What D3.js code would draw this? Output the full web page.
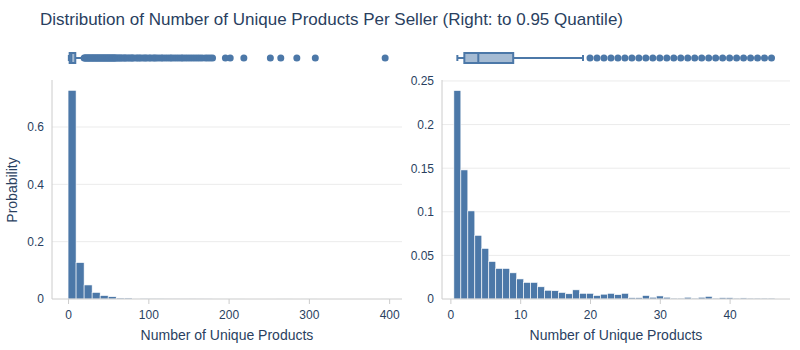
<!DOCTYPE html>
<html>
<head>
<meta charset="utf-8">
<script src="https://cdn.jsdelivr.net/npm/d3@7"></script>
<style>
  body { margin: 0; background: #fff; }
  text { font-family: "Liberation Sans", Arial, sans-serif; fill: #2a3f5f; }
  .axis path, .axis line { stroke: #cccccc; }
  .axis text { font-size: 12px; fill: #2a3f5f; }
</style>
</head>
<body>
<script>
// Chart size
const width = 800;
const height = 350;

// Left: full distribution, bins of 10 starting at 0
const leftBinSize = 10;
const leftProb = [0.728, 0.127, 0.049, 0.023, 0.012, 0.008, 0.0035, 0.0035,
  0.0015, 0.001, 0.0008, 0.0008, 0.0005, 0.0005, 0.0004, 0.0005, 0.0004, 0.0003,
  0.0001, 0.0001, 0.0001, 0.0001, 0, 0, 0, 0, 0.0001, 0.0001, 0, 0.0001, 0.0001,
  0, 0, 0, 0, 0, 0, 0, 0, 0.0001];
const leftBox = {low: 1, q1: 2, median: 4, q3: 9, high: 19};
const leftOutliers = [20, 21, 22, 23, 24, 25, 26, 27, 28, 29, 30, 31, 32, 33, 34, 35,
  36, 37, 38, 39, 40, 41, 42, 43, 44, 45, 46, 47, 48, 49, 50, 51, 52, 53, 54, 55, 56,
  57, 58, 59, 60, 62, 63, 65, 66, 68, 70, 71, 73, 75, 77, 79, 80, 82, 85, 87, 89, 91,
  94, 96, 98, 101, 103, 106, 108, 110, 113, 116, 118, 121, 124, 127, 129, 132, 135,
  138, 141, 143, 146, 149, 152, 155, 158, 161, 164, 167, 171, 174, 177, 180,
  196, 202, 219, 252, 265, 285, 308, 395];

// Right: up to 0.95 quantile, bins of width 1 centred on each count
const rightValues = [1, 2, 3, 4, 5, 6, 7, 8, 9, 10, 11, 12, 13, 14, 15, 16, 17, 18,
  19, 20, 21, 22, 23, 24, 25, 26, 27, 28, 29, 30, 31, 32, 33, 34, 35, 36, 37, 38, 39,
  40, 41, 42, 43, 44, 45, 46];
const rightProb = [0.239, 0.148, 0.101, 0.073, 0.058, 0.043, 0.035, 0.035, 0.030,
  0.023, 0.019, 0.019, 0.014, 0.010, 0.0095, 0.0075, 0.006, 0.0105, 0.0065, 0.0065,
  0.004, 0.0055, 0.0065, 0.005, 0.0065, 0.0015, 0.0015, 0.004, 0.002, 0.0035, 0.002,
  0.001, 0.001, 0.002, 0.001, 0.002, 0.003, 0.001, 0.0015, 0.0015, 0.001, 0.0012,
  0.001, 0.001, 0.001, 0.001];
const rightBox = {low: 1, q1: 2, median: 4, q3: 9, high: 19};
const rightOutliers = [20, 21, 22, 23, 24, 25, 26, 27, 28, 29, 30, 31, 32, 33, 34,
  35, 36, 37, 38, 39, 40, 41, 42, 43, 44, 45, 46];

// Tick labels
const leftXTicks = [0, 100, 200, 300, 400];
const leftYTicks = [0, 0.2, 0.4, 0.6];
const rightXTicks = [0, 10, 20, 30, 40];
const rightYTicks = [0, 0.05, 0.1, 0.15, 0.2, 0.25];

const barColor = "#4c78a8";
const gridColor = "#ebebeb";

const svg = d3.select("body")
  .append("svg")
  .attr("width", width)
  .attr("height", height);

//Title
svg.append("text")
  .attr("x", 40)
  .attr("y", 25)
  .style("font-size", "17px")
  .text("Distribution of Number of Unique Products Per Seller (Right: to 0.95 Quantile)");

//Draws one panel: box plot on top, histogram below
function drawPanel(opts) {
  const x = d3.scaleLinear().domain(opts.xDomain).range(opts.xRange);
  const y = d3.scaleLinear().domain(opts.yDomain).range([299, 80]);
  const g = svg.append("g");

  // grid
  g.append("g")
    .selectAll("line")
    .data(opts.yTicks.filter(d => d > 0))
    .enter()
    .append("line")
    .attr("x1", opts.xRange[0])
    .attr("x2", opts.xRange[1])
    .attr("y1", d => y(d))
    .attr("y2", d => y(d))
    .attr("stroke", gridColor);

  // bars
  g.append("g")
    .selectAll("rect")
    .data(opts.bins)
    .enter()
    .append("rect")
    .attr("x", d => x(d.x0))
    .attr("width", d => x(d.x1) - x(d.x0))
    .attr("y", d => y(d.p))
    .attr("height", d => y(0) - y(d.p))
    .attr("fill", barColor)
    .attr("stroke", "white")
    .attr("stroke-width", 0.6);

  // axes
  g.append("g")
    .attr("class", "axis")
    .attr("transform", "translate(0,299)")
    .call(d3.axisBottom(x).tickValues(opts.xTicks).tickSize(5).tickPadding(6))
    .call(a => a.select(".domain").attr("d", `M${opts.xRange[0]},0H${opts.xRange[1]}`));

  g.append("g")
    .attr("class", "axis")
    .attr("transform", `translate(${opts.xRange[0]},0)`)
    .call(d3.axisLeft(y).tickValues(opts.yTicks).tickSize(0).tickPadding(8)
      .tickFormat(d => d3.format("~g")(d)))
    .call(a => a.select(".domain").attr("d", "M0,299V80"));

  // x title
  svg.append("text")
    .attr("x", (opts.xRange[0] + opts.xRange[1]) / 2)
    .attr("y", 340)
    .attr("text-anchor", "middle")
    .style("font-size", "14px")
    .text("Number of Unique Products");

  // box plot
  const cy = 58;
  const b = opts.box;
  const bx = g.append("g");
  bx.append("line")
    .attr("x1", x(b.low)).attr("x2", x(b.q1))
    .attr("y1", cy).attr("y2", cy)
    .attr("stroke", barColor).attr("stroke-width", 2);
  bx.append("line")
    .attr("x1", x(b.q3)).attr("x2", x(b.high))
    .attr("y1", cy).attr("y2", cy)
    .attr("stroke", barColor).attr("stroke-width", 2);
  [b.low, b.high].forEach(v => {
    bx.append("line")
      .attr("x1", x(v)).attr("x2", x(v))
      .attr("y1", cy - 3).attr("y2", cy + 3)
      .attr("stroke", barColor).attr("stroke-width", 2);
  });
  bx.append("rect")
    .attr("x", x(b.q1))
    .attr("width", x(b.q3) - x(b.q1))
    .attr("y", cy - 5)
    .attr("height", 10)
    .attr("fill", barColor)
    .attr("fill-opacity", 0.5)
    .attr("stroke", barColor)
    .attr("stroke-width", 2);
  bx.append("line")
    .attr("x1", x(b.median)).attr("x2", x(b.median))
    .attr("y1", cy - 5).attr("y2", cy + 5)
    .attr("stroke", barColor).attr("stroke-width", 2);
  bx.selectAll("circle")
    .data(opts.outliers)
    .enter()
    .append("circle")
    .attr("cx", d => x(d))
    .attr("cy", cy)
    .attr("r", 3.5)
    .attr("fill", barColor);
}

drawPanel({
  xDomain: [-20, 416],
  xRange: [52, 402],
  yDomain: [0, 0.764],
  xTicks: leftXTicks,
  yTicks: leftYTicks,
  bins: leftProb.map((p, i) => ({x0: i * leftBinSize, x1: (i + 1) * leftBinSize, p: p})),
  box: leftBox,
  outliers: leftOutliers
});

drawPanel({
  xDomain: [-1.2, 48.65],
  xRange: [442, 790],
  yDomain: [0, 0.2511],
  xTicks: rightXTicks,
  yTicks: rightYTicks,
  bins: rightValues.map((v, i) => ({x0: v - 0.5, x1: v + 0.5, p: rightProb[i]})),
  box: rightBox,
  outliers: rightOutliers
});

//Y title
svg.append("text")
  .attr("transform", "translate(17,190) rotate(-90)")
  .attr("text-anchor", "middle")
  .style("font-size", "14px")
  .text("Probability");
</script>
</body>
</html>
